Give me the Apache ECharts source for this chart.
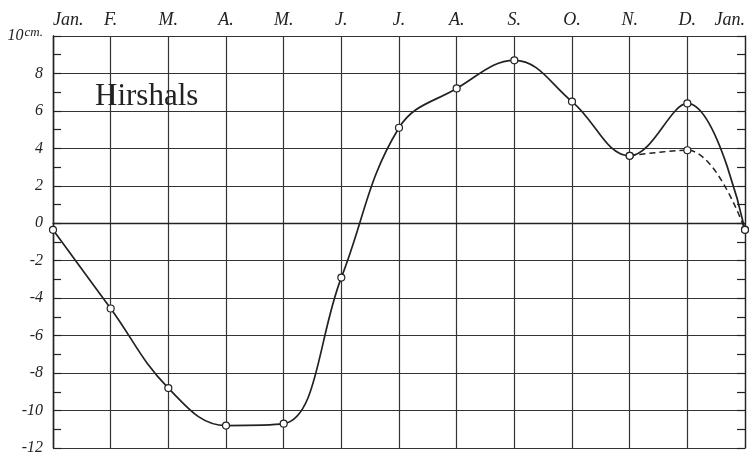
<!DOCTYPE html>
<html><head><meta charset="utf-8">
<script src="https://cdn.jsdelivr.net/npm/echarts@6/dist/echarts.min.js"></script>
<style>html,body{margin:0;padding:0;background:#fff}#c{width:753px;height:456px}</style>
</head><body><div id="c"></div>
<script>
const months = ['Jan.','F.','M.','A.','M.','J.','J.','A.','S.','O.','N.','D.','Jan.'];
const mainValues = [-0.35, -4.55, -8.8, -10.8, -10.7, -2.9, 5.1, 7.2, 8.7, 6.5, 3.6, 6.4, -0.35];
const altValues = [null, null, null, null, null, null, null, null, null, null, 3.6, 3.9, -0.35];
const yTicks = [-12, -10, -8, -6, -4, -2, 0, 2, 4, 6, 8, 10];
const stationName = 'Hirshals';

const serif = '"Liberation Serif", "DejaVu Serif", serif';
const ink = '#222';
const yMin = yTicks[0], yMax = yTicks[yTicks.length-1];
const tickAxis = pos => ({
  type: 'value', min: yMin, max: yMax, interval: 1, position: pos, offset: 0,
  axisLine: {show: true, onZero: false, lineStyle: {color: ink, width: 1.3}},
  axisTick: {show: true, inside: true, length: 8, lineStyle: {color: ink, width: 1.2}},
  axisLabel: {show: false},
  splitLine: {show: false}
});
const chart = echarts.init(document.getElementById('c'), null, {renderer:'canvas'});
chart.setOption({
  backgroundColor: '#fff',
  animation: false,
  grid: {left: 53, right: 8, top: 36, bottom: 8},
  title: {text: stationName, left: 90, top: 76,
    textStyle: {fontFamily: serif, fontSize: 31, fontWeight: 'normal', color: '#222'}},
  xAxis: {
    type: 'category', data: months, position: 'top', boundaryGap: false,
    axisLine: {lineStyle: {color: ink, width: 1.3}},
    axisTick: {show: false},
    axisLabel: {fontFamily: serif, fontStyle: 'italic', fontSize: 18, color: '#222', margin: 7,
      alignMinLabel: 'left', alignMaxLabel: 'right'},
    splitLine: {show: true, lineStyle: {color: '#333', width: 1.2}}
  },
  yAxis: [{
    type: 'value', min: yMin, max: yMax, interval: 2,
    axisLine: {show: true, lineStyle: {color: ink, width: 1.3}},
    axisTick: {show: false},
    axisLabel: {fontFamily: serif, fontStyle: 'italic', fontSize: 16, color: '#222', margin: 10,
      formatter: v => v === yMax ? '{a|' + v + '}{b|cm.}' : String(v),
      rich: {a: {fontFamily: serif, fontStyle: 'italic', fontSize: 16, color: '#222'},
             b: {fontFamily: serif, fontStyle: 'italic', fontSize: 13, color: '#222', verticalAlign: 'top', padding: [0,0,6,1]}}},
    splitLine: {show: true, lineStyle: {color: '#333', width: 1.2}}
  }, tickAxis('left'), tickAxis('right')],
  series: [{
    type: 'line', data: mainValues, smooth: 0.4, yAxisIndex: 0,
    symbol: 'circle', symbolSize: 7,
    itemStyle: {color: '#fff', borderColor: ink, borderWidth: 1.2},
    lineStyle: {color: ink, width: 1.7}, z: 3
  }, {
    type: 'line', data: altValues, smooth: 0.4, yAxisIndex: 0,
    symbol: 'circle', symbolSize: 7,
    itemStyle: {color: '#fff', borderColor: ink, borderWidth: 1.2},
    lineStyle: {color: ink, width: 1.5, type: [6, 4]}, z: 2
  }]
});
</script></body></html>
